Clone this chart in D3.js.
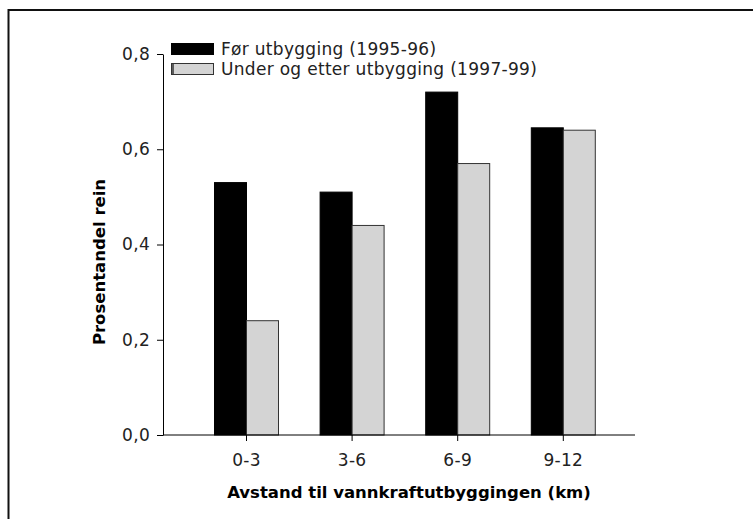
<!DOCTYPE html>
<html>
<head>
<meta charset="utf-8">
<script src="https://cdn.jsdelivr.net/npm/d3@7"></script>
<style>
  body { margin: 0; background: #fff; }
  text { font-family: "DejaVu Sans", Verdana, sans-serif; fill: #000; }
  .axis text { font-size: 17px; letter-spacing: 0.3px; fill: #222; }
  .axis path, .axis line { stroke: #000; }
</style>
</head>
<body>
<div id="chart"></div>
<script>
var categories = ["0-3", "3-6", "6-9", "9-12"];
var before = [0.53, 0.51, 0.72, 0.645];
var after = [0.24, 0.44, 0.57, 0.64];
var seriesNames = ["Før utbygging (1995-96)", "Under og etter utbygging (1997-99)"];
var yTicks = [0, 0.2, 0.4, 0.6, 0.8];

var svg = d3.select("#chart").append("svg").attr("width", 753).attr("height", 519);

// outer frame (only top and left show in the picture)
svg.append("rect")
    .attr("x", 8.5).attr("y", 10)
    .attr("width", 900).attr("height", 700)
    .attr("fill", "none")
    .attr("stroke", "#111")
    .attr("stroke-width", 2);

var x = d3.scaleBand().domain(categories).range([193.7, 616.1])
    .paddingInner(0.394).paddingOuter(0.197);
var y = d3.scaleLinear().domain([0, 0.8]).range([435, 54]);

var fmt = function(d) { return d3.format(".1f")(d).replace(".", ","); };

var data = categories.map(function(c, i) {
  return {cat: c, values: [before[i], after[i]]};
});
var colors = ["#000", "#d4d4d4"];
var strokes = ["#000", "#333"];

var groups = svg.selectAll(".group").data(data).enter().append("g")
    .attr("class", "group");

groups.selectAll("rect")
    .data(function(d) { return d.values.map(function(v, k) { return {cat: d.cat, v: v, k: k}; }); })
    .enter().append("rect")
    .attr("x", function(d) { return x(d.cat) + d.k * x.bandwidth() / 2; })
    .attr("y", function(d) { return y(d.v); })
    .attr("width", x.bandwidth() / 2)
    .attr("height", function(d) { return y(0) - y(d.v); })
    .attr("fill", function(d) { return colors[d.k]; })
    .attr("stroke", function(d) { return strokes[d.k]; })
    .attr("stroke-width", 1);

// y axis
svg.append("g")
    .attr("class", "axis")
    .attr("transform", "translate(163,0)")
    .call(d3.axisLeft(y).tickValues(yTicks).tickFormat(fmt).tickSize(6).tickPadding(7).tickSizeOuter(0));

// x axis
var xAxis = svg.append("g")
    .attr("class", "axis")
    .attr("transform", "translate(0,435)")
    .call(d3.axisBottom(x).tickSize(6).tickPadding(13));
xAxis.select(".domain").remove();
xAxis.append("line")
    .attr("x1", 163).attr("x2", 635)
    .attr("stroke", "#000");

// titles
svg.append("text")
    .attr("x", 409).attr("y", 498)
    .attr("text-anchor", "middle")
    .style("font-size", "16.5px").style("font-weight", "bold")
    .text("Avstand til vannkraftutbyggingen (km)");

svg.append("text")
    .attr("transform", "translate(105,262) rotate(-90)")
    .attr("text-anchor", "middle")
    .style("font-size", "16.5px").style("font-weight", "bold")
    .text("Prosentandel rein");

// legend
var legend = svg.append("g").attr("transform", "translate(171,43)");
seriesNames.forEach(function(name, k) {
  var row = legend.append("g").attr("transform", "translate(0," + (k * 20) + ")");
  row.append("rect")
      .attr("x", 0.5).attr("y", 0.5)
      .attr("width", 42).attr("height", 11)
      .attr("fill", colors[k])
      .attr("stroke", strokes[k]);
  if (k === 1) {
    row.append("line").attr("x1", 2).attr("x2", 2).attr("y1", 0).attr("y2", 12)
        .attr("stroke", "#333").attr("stroke-width", 1.5);
  }
  row.append("text")
      .attr("x", 50).attr("y", 12)
      .style("font-size", "17px").style("letter-spacing", "0.3px").style("fill", "#222")
      .text(name);
});
</script>
</body>
</html>
